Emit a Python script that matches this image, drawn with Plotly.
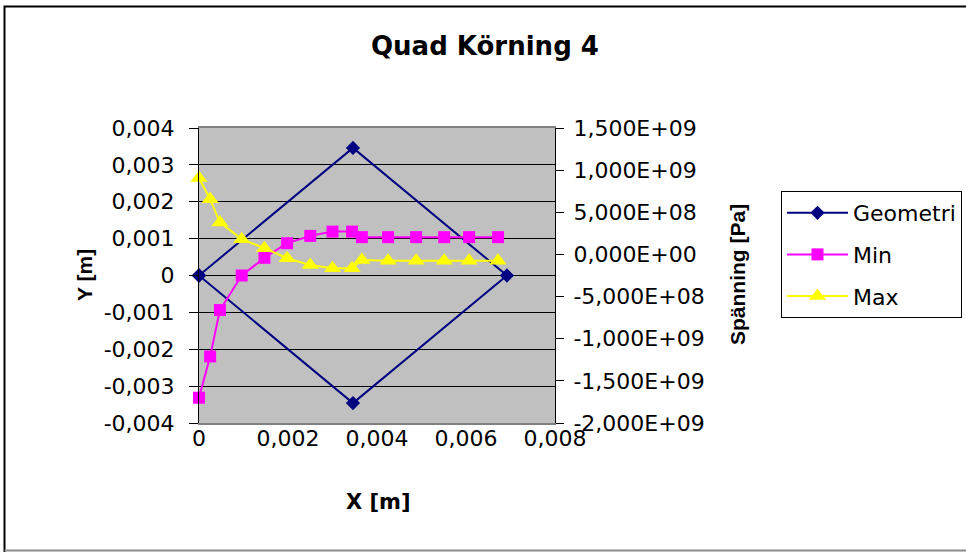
import plotly.graph_objects as go

# ---- data -------------------------------------------------------------
# Geometry outline (square rotated 45 degrees), primary axes, metres
geo_x = [0.0, 0.00346, 0.00692, 0.00346, 0.0]
geo_y = [0.0, 0.00346, 0.0, -0.00346, 0.0]

# Stress sample positions along x (m), shared by Min and Max
stress_x = [0.0, 0.00025, 0.00047, 0.00096, 0.00147, 0.00198, 0.0025, 0.003,
            0.00344, 0.00366, 0.00425, 0.00488, 0.00551, 0.00607, 0.00672]
# Stress values, secondary axis (Pa)
min_vals = [-1.70e9, -1.21e9, -0.66e9, -0.25e9, -0.04e9, 0.133e9, 0.22e9, 0.271e9,
            0.271e9, 0.205e9, 0.205e9, 0.205e9, 0.205e9, 0.205e9, 0.205e9]
max_vals = [0.906e9, 0.656e9, 0.378e9, 0.181e9, 0.074e9, -0.045e9, -0.125e9, -0.164e9,
            -0.164e9, -0.065e9, -0.074e9, -0.074e9, -0.074e9, -0.074e9, -0.074e9]

# Tick values and labels (decimal comma)
x_ticks = [0.0, 0.002, 0.004, 0.006, 0.008]
x_labels = ["0", "0,002", "0,004", "0,006", "0,008"]
y_ticks = [0.004, 0.003, 0.002, 0.001, 0.0, -0.001, -0.002, -0.003, -0.004]
y_labels = ["0,004", "0,003", "0,002", "0,001", "0", "-0,001", "-0,002", "-0,003", "-0,004"]
y2_ticks = [1.5e9, 1.0e9, 0.5e9, 0.0, -0.5e9, -1.0e9, -1.5e9, -2.0e9]
y2_labels = ["1,500E+09", "1,000E+09", "5,000E+08", "0,000E+00",
             "-5,000E+08", "-1,000E+09", "-1,500E+09", "-2,000E+09"]

# ---- layout constants -------------------------------------------------
W, H = 966, 552
ML, MR, MT, MB = 199, 411, 128, 129
PW, PH = W - ML - MR, H - MT - MB

FONT = "DejaVu Sans"
FONT_V = "Liberation Sans, Arial"
TXT = 22


def px(xp):
    return (xp - ML) / PW


def py(yp):
    return (H - MB - yp) / PH


fig = go.Figure()

fig.add_trace(go.Scatter(
    x=geo_x, y=geo_y, name="Geometri", mode="lines+markers",
    line=dict(color="#000080", width=2),
    marker=dict(symbol="diamond", size=11, color="#000080"),
    legendgroup="g", xaxis="x", yaxis="y", cliponaxis=False))
fig.add_trace(go.Scatter(
    x=stress_x, y=min_vals, name="Min", mode="lines+markers",
    line=dict(color="#FF00FF", width=2),
    marker=dict(symbol="square", size=12, color="#FF00FF"),
    legendgroup="mn", xaxis="x", yaxis="y2", cliponaxis=False))
fig.add_trace(go.Scatter(
    x=stress_x, y=max_vals, name="Max", mode="lines+markers",
    line=dict(color="#FFFF00", width=2),
    marker=dict(symbol="triangle-up", size=15, color="#FFFF00"),
    legendgroup="mx", xaxis="x", yaxis="y2", cliponaxis=False))

tickfont = dict(family=FONT, size=TXT, color="black")

fig.update_layout(
    width=W, height=H,
    margin=dict(l=ML, r=MR, t=MT, b=MB, autoexpand=False),
    paper_bgcolor="white",
    plot_bgcolor="#C0C0C0",
    showlegend=True,
    legend=dict(
        xref="container", yref="container",
        x=781 / W, y=1 - 191 / H, xanchor="left", yanchor="top",
        font=dict(family=FONT, size=TXT, color="black"),
        bgcolor="white", bordercolor="black", borderwidth=1,
        tracegroupgap=10, itemwidth=61),
    xaxis=dict(
        range=[0, 0.008], tickvals=x_ticks, ticktext=x_labels,
        ticks="", showgrid=False, zeroline=False,
        showline=True, linecolor="#808080", linewidth=2, mirror=True,
        tickfont=tickfont, ticklabelstandoff=-5),
    # tick marks riding on the y = 0 line
    xaxis2=dict(
        overlaying="x", anchor="free", position=0.5,
        range=[0, 0.008], tickvals=x_ticks, showticklabels=False,
        ticks="outside", ticklen=8, tickcolor="black", tickwidth=1,
        showgrid=False, zeroline=False, showline=False),
    yaxis=dict(
        range=[-0.004, 0.004], tickvals=y_ticks, ticktext=y_labels,
        ticks="outside", ticklen=9, tickcolor="black",
        showgrid=True, gridcolor="black", gridwidth=1,
        zeroline=True, zerolinecolor="black", zerolinewidth=1,
        showline=True, linecolor="black", linewidth=1,
        tickfont=tickfont, ticklabelstandoff=10),
    yaxis2=dict(
        overlaying="y", side="right", anchor="x",
        range=[-2.0e9, 1.5e9], tickvals=y2_ticks, ticktext=y2_labels,
        ticks="outside", ticklen=8, tickcolor="black",
        showgrid=False, zeroline=False,
        showline=True, linecolor="black", linewidth=1,
        tickfont=tickfont, ticklabelstandoff=5),
    # inner half of the crossing tick marks on the right axis
    yaxis3=dict(
        overlaying="y", side="right", anchor="x",
        range=[-2.0e9, 1.5e9], tickvals=y2_ticks, showticklabels=False,
        ticks="inside", ticklen=8, tickcolor="black",
        showgrid=False, zeroline=False, showline=False),
)

# chart title and axis titles
fig.add_annotation(text="Quad Körning 4", xref="paper", yref="paper",
                   x=px(484.5), y=py(46), showarrow=False,
                   xanchor="center", yanchor="middle",
                   font=dict(family=FONT, size=26, color="black", weight="bold"))
fig.add_annotation(text="X [m]", xref="paper", yref="paper",
                   x=px(378), y=py(502), showarrow=False,
                   xanchor="center", yanchor="middle",
                   font=dict(family=FONT, size=21, color="black", weight="bold"))
fig.add_annotation(text="Y [m]", xref="paper", yref="paper",
                   x=px(84), y=py(275), showarrow=False, textangle=-90,
                   xanchor="center", yanchor="middle",
                   font=dict(family=FONT_V, size=21, color="black", weight="bold"))
fig.add_annotation(text="Spänning [Pa]", xref="paper", yref="paper",
                   x=px(737), y=py(275), showarrow=False, textangle=-90,
                   xanchor="center", yanchor="middle",
                   font=dict(family=FONT_V, size=21, color="black", weight="bold"))

# chart-area frame
fig.add_shape(type="rect", xref="paper", yref="paper",
              x0=px(4.5), x1=px(975), y0=py(560), y1=py(6.5),
              line=dict(color="black", width=2), fillcolor="rgba(0,0,0,0)",
              layer="above")
fig.add_shape(type="line", xref="paper", yref="paper",
              x0=px(4.5), x1=px(975), y0=py(550.5), y1=py(550.5),
              line=dict(color="#8C8C8C", width=2), layer="above")

fig.write_html("out.html")
